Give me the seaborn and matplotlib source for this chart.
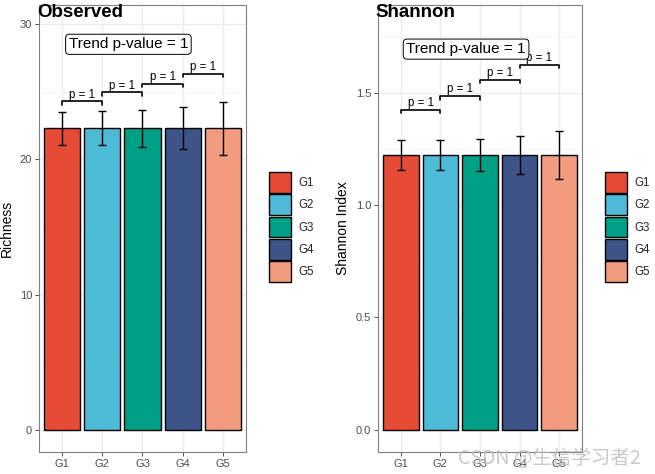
import matplotlib
matplotlib.use("Agg")
import matplotlib.pyplot as plt
import seaborn as sns
import pandas as pd
import numpy as np
from matplotlib.patches import Patch

groups = ["G1", "G2", "G3", "G4", "G5"]
colors = ["#E64B35", "#4DBBD5", "#00A087", "#3C5488", "#F39B7F"]

richness_mean = [22.3, 22.3, 22.3, 22.3, 22.3]
richness_err = [1.2, 1.25, 1.35, 1.55, 1.95]
richness_brackets = [24.3, 24.95, 25.6, 26.3]

shannon_mean = [1.222, 1.222, 1.222, 1.222, 1.222]
shannon_err = [0.065, 0.065, 0.07, 0.085, 0.105]
shannon_brackets = [1.422, 1.484, 1.556, 1.622]

pair_labels = ["p = 1", "p = 1", "p = 1", "p = 1"]
trend_label = "Trend p-value = 1"

sns.set_theme(style="white")
plt.rcParams["font.family"] = ["Liberation Sans", "Noto Sans CJK SC", "DejaVu Sans"]

fig = plt.figure(figsize=(6.55, 4.74), dpi=100)

def panel(rect, means, errs, brackets, ylim, yticks, yticklabels, ylabel, title,
          trend_y, trend_x, minor, tick_h, text_off, leg_x):
    ax = fig.add_axes(rect)
    df = pd.DataFrame({"group": groups, "value": means})
    sns.barplot(data=df, x="group", y="value", hue="group", palette=colors,
                saturation=1, width=0.9, edgecolor="black", linewidth=1.0,
                errorbar=None, legend=False, ax=ax, zorder=3)
    ax.errorbar(np.arange(len(groups)), means, yerr=errs, fmt="none",
                ecolor="black", elinewidth=1.0, capsize=3, capthick=1.0, zorder=4)
    for i, (b, lab) in enumerate(zip(brackets, pair_labels)):
        ax.plot([i, i, i + 1, i + 1], [b - tick_h, b, b, b - tick_h],
                color="black", lw=1.2, zorder=5)
        ax.text(i + 0.5, b + text_off, lab, ha="center", va="bottom",
                fontsize=8.3, color="black", zorder=6)
    ax.text(trend_x, trend_y, trend_label, ha="center", va="center", fontsize=11,
            color="black", zorder=6,
            bbox=dict(boxstyle="round,pad=0.2,rounding_size=0.25", fc="white",
                      ec="black", lw=0.7))
    ax.set_xlim(-0.575, 4.575)
    ax.set_ylim(*ylim)
    ax.set_yticks(yticks)
    ax.set_yticklabels(yticklabels)
    ax.set_yticks(minor, minor=True)
    ax.grid(True, which="major", color="#EBEBEB", lw=0.9, zorder=0)
    ax.grid(True, which="minor", axis="y", color="#F2F2F2", lw=0.5, zorder=0)
    ax.set_axisbelow(True)
    for s in ax.spines.values():
        s.set_color("#7F7F7F")
        s.set_linewidth(0.8)
    ax.tick_params(axis="both", which="major", length=3, width=0.6, color="#333333",
                   labelsize=8, labelcolor="#4D4D4D", bottom=True, left=True, pad=2)
    ax.tick_params(which="minor", length=0)
    ax.set_xlabel("")
    ax.set_ylabel(ylabel, fontsize=10, color="black", labelpad=4)
    ax.set_title("")
    fig.text(rect[0] - 0.003, 0.992, title, fontsize=13.5, fontweight="bold",
             ha="left", va="top", color="black")
    handles = [Patch(facecolor=c, edgecolor="black", lw=1.0, label=g)
               for g, c in zip(groups, colors)]
    fig.legend(handles=handles, loc="center left", bbox_to_anchor=(leg_x, 0.521),
               frameon=False, fontsize=8.3, handlelength=1.9, handleheight=2.4,
               labelspacing=0.12, handletextpad=0.65, borderpad=0, borderaxespad=0)
    return ax

panel([0.0595, 0.0464, 0.316, 0.943], richness_mean, richness_err, richness_brackets,
      (-1.6, 31.4), [0, 10, 20, 30], ["0", "10", "20", "30"], "Richness", "Observed",
      28.5, 1.65, [5, 15, 25], 0.25, 0.05, 0.411)

panel([0.577, 0.0464, 0.3115, 0.943], shannon_mean, shannon_err, shannon_brackets,
      (-0.098, 1.889), [0.0, 0.5, 1.0, 1.5], ["0.0", "0.5", "1.0", "1.5"],
      "Shannon Index", "Shannon", 1.693, 1.65, [0.25, 0.75, 1.25, 1.75], 0.015, 0.003, 0.924)

fig.text(0.978, 0.033, "CSDN @生信学习者2", fontsize=14, color="#BBBBBB", alpha=0.8,
         ha="right", va="center", family=["Noto Sans CJK SC", "DejaVu Sans"])

fig.savefig("out.png", dpi=100)
